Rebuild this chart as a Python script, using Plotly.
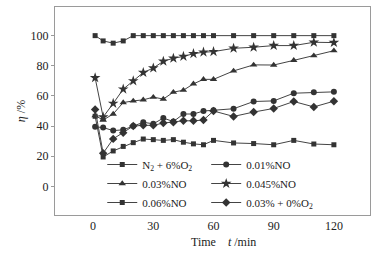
import plotly.graph_objects as go

# ---- data ----
t = [1, 5, 10, 15, 20, 25, 30, 35, 40, 45, 50, 55, 60, 70, 80, 90, 100, 110, 120]
n2_o2 = [46.5, 19.5, 23.5, 26.5, 29, 31.4, 31, 30.5, 31, 29.3, 28.2, 27.6, 30.5, 28.8, 28.4, 27.6, 30.5, 28.1, 27.6]
no_001 = [39.5, 39, 37, 37.5, 40, 42.5, 41.5, 45.3, 43, 48, 48, 50, 50.5, 51.5, 56.3, 56.7, 61.8, 62.5, 62.7]
no_003 = [47, 44, 48, 55.6, 56.7, 57.4, 59.2, 57.9, 62.5, 63.8, 68, 71, 71, 76.6, 80.6, 80.5, 83.6, 86.7, 90]
no_0045 = [72, 46, 55, 64.5, 70, 75.5, 78.5, 83, 85, 86.2, 88, 89, 89.4, 91.6, 92.3, 93.4, 93.4, 95.6, 95.4]
no_006 = [100, 96.5, 95, 96.5, 100, 100, 100, 100, 100, 100, 100, 100, 100, 100, 100, 100, 100, 100, 100]
no003_o2 = [51, 22, 31.5, 35.5, 40, 40.5, 40.5, 42, 42.5, 43.5, 43.5, 44, 50, 46.4, 49.3, 51.7, 56.3, 52.7, 56.5]

names = ["N<sub>2</sub> + 6%O<sub>2</sub>", "0.01%NO", "0.03%NO", "0.045%NO", "0.06%NO",
         "0.03% + 0%O<sub>2</sub>"]
series = [n2_o2, no_001, no_003, no_0045, no_006, no003_o2]
symbols = ["square", "circle", "triangle-up", "star", "square", "diamond"]
sizes = [5, 6, 6.5, 8, 5, 6.5]
legends = ["legend", "legend2", "legend", "legend2", "legend", "legend2"]

FONT = "Liberation Serif"
MARK = "#333333"
LINE = "#444444"
FRAME = "#9a9a9a"

fig = go.Figure()
for name, ys, sym, sz, lg in zip(names, series, symbols, sizes, legends):
    fig.add_trace(go.Scatter(
        x=t, y=ys, name=name, mode="lines+markers",
        line=dict(color=LINE, width=1),
        marker=dict(symbol=sym, size=sz, color=MARK, line=dict(width=0)),
        legend=lg,
    ))

legend_common = dict(
    font=dict(family=FONT, size=11, color="#222222"),
    bgcolor="rgba(0,0,0,0)", borderwidth=0,
    itemwidth=30, tracegroupgap=0, itemsizing="trace",
    xanchor="left", yanchor="top",
)

fig.update_layout(
    width=389, height=261,
    margin=dict(l=55, r=19, t=7, b=46),
    paper_bgcolor="white", plot_bgcolor="white",
    font=dict(family=FONT, size=12, color="#222222"),
    showlegend=True,
    legend=dict(x=0.15, y=0.3125, **legend_common),
    legend2=dict(x=0.48, y=0.3125, **legend_common),
    xaxis=dict(
        range=[-19, 138], tickvals=[0, 30, 60, 90, 120],
        showgrid=False, zeroline=False,
        showline=True, linecolor=FRAME, linewidth=1, mirror=True,
        ticks="",
        tickfont=dict(family=FONT, size=12, color="#222222"),
    ),
    yaxis=dict(
        range=[-19, 119], tickvals=[0, 20, 40, 60, 80, 100],
        showgrid=False, zeroline=False,
        showline=True, linecolor=FRAME, linewidth=1, mirror=True,
        ticks="outside", ticklen=3, tickcolor=FRAME,
        tickfont=dict(family=FONT, size=12, color="#222222"),
        title=dict(text="<i>η</i> /%", font=dict(family=FONT, size=12), standoff=2),
    ),
)

fig.add_annotation(
    text="Time&nbsp;&nbsp;&nbsp;&nbsp;<i>t</i> /min", xref="paper", yref="paper",
    x=0.535, y=0, yshift=-27, xanchor="center", yanchor="middle",
    showarrow=False, font=dict(family=FONT, size=12, color="#222222"),
)

fig.write_html("out.html", config={"displayModeBar": False},
               post_script="document.body.style.margin='0';")
